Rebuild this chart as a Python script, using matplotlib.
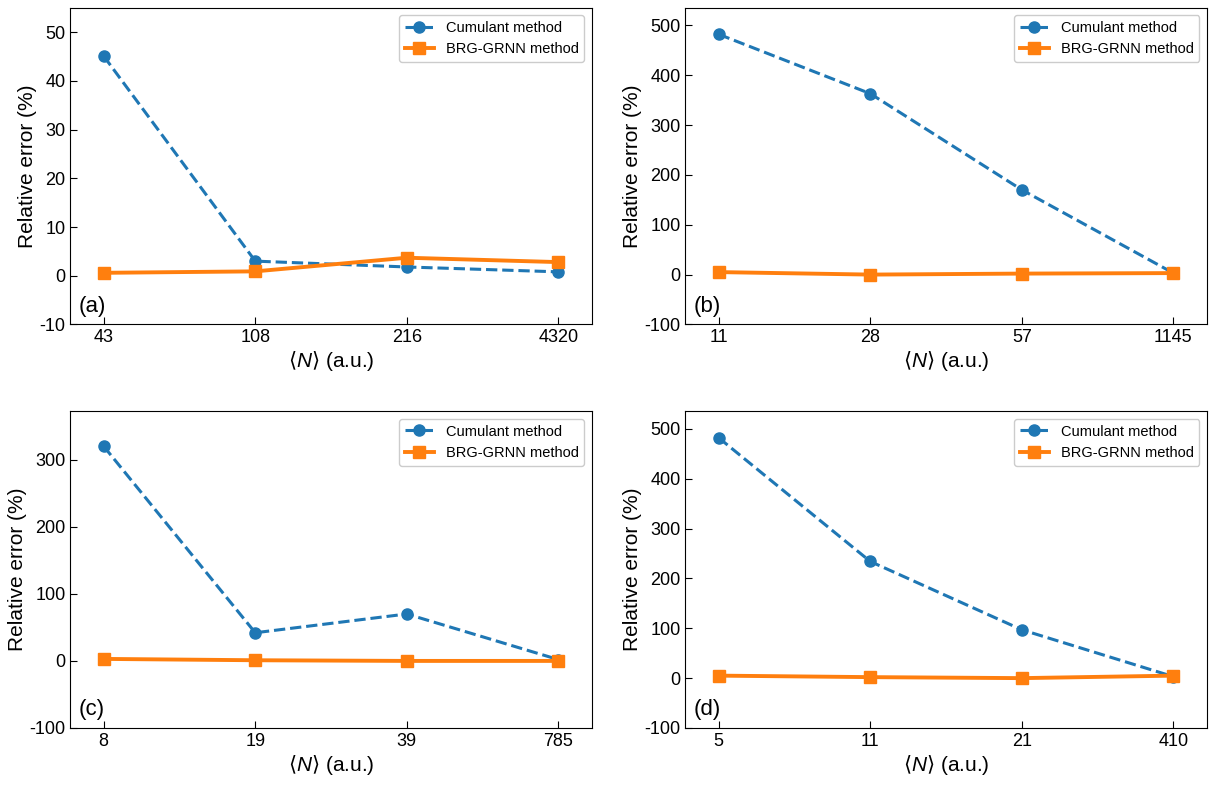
import matplotlib
matplotlib.use('Agg')
import matplotlib.pyplot as plt

plt.rcParams['font.family'] = ['Liberation Sans', 'DejaVu Sans']
plt.rcParams['mathtext.fontset'] = 'custom'
plt.rcParams['mathtext.it'] = 'Liberation Sans:italic'
plt.rcParams['axes.unicode_minus'] = False

# Tick labels (<N>) and relative errors for each panel
ticks_a = ['43', '108', '216', '4320']
cum_a = [45.1, 3.0, 1.8, 0.8]
brg_a = [0.6, 0.9, 3.7, 2.8]

ticks_b = ['11', '28', '57', '1145']
cum_b = [482, 363, 170, 3]
brg_b = [5, 0, 2, 3]

ticks_c = ['8', '19', '39', '785']
cum_c = [320, 42, 70, 2]
brg_c = [3, 1, 0, 0]

ticks_d = ['5', '11', '21', '410']
cum_d = [482, 234, 97, 3]
brg_d = [5, 2, 0, 5]

panels = [
    ('(a)', ticks_a, cum_a, brg_a, (-10, 55), range(-10, 51, 10)),
    ('(b)', ticks_b, cum_b, brg_b, (-100, 535), range(-100, 501, 100)),
    ('(c)', ticks_c, cum_c, brg_c, (-100, 372), range(-100, 301, 100)),
    ('(d)', ticks_d, cum_d, brg_d, (-100, 535), range(-100, 501, 100)),
]

fig, axes = plt.subplots(2, 2, figsize=(12.14, 7.93), dpi=100)
for ax, (tag, ticks, cum, brg, ylim, yt) in zip(axes.flat, panels):
    x = range(len(ticks))
    ax.plot(x, cum, '--o', color='#1f77b4', lw=2.2, ms=8, label='Cumulant method')
    ax.plot(x, brg, '-s', color='#ff7f0e', lw=2.8, ms=8, label='BRG-GRNN method')
    ax.set_xticks(list(x), ticks)
    ax.set_xlim(-0.22, 3.22)
    ax.set_ylim(*ylim)
    ax.set_yticks(list(yt))
    ax.tick_params(direction='in', labelsize=13, length=5)
    ax.set_xlabel(r'$\langle N\rangle$ (a.u.)', fontsize=15, labelpad=2)
    ax.set_ylabel('Relative error (%)', fontsize=15, labelpad=2)
    ax.text(0.015, 0.04, tag, transform=ax.transAxes, fontsize=16)
    ax.legend(loc='upper right', fontsize=10.5, framealpha=1, edgecolor='#cccccc')

fig.subplots_adjust(left=0.058, right=0.994, top=0.99, bottom=0.082, wspace=0.18, hspace=0.275)
fig.savefig('out.png')
